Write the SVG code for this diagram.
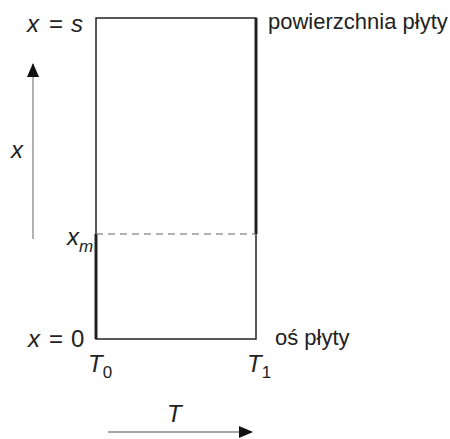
<svg xmlns="http://www.w3.org/2000/svg" width="450" height="439" viewBox="0 0 450 439">
<style>
text{font-family:"Liberation Sans",Arial,sans-serif;fill:#222;}
.it{font-style:italic;font-size:24px;}
.lab{font-size:22px;}
.sub{font-size:17px;}
.edge{stroke:#222;stroke-width:1.5;fill:none;}
.thick{stroke:#222;stroke-width:3;fill:none;}
.axis{stroke:#888;stroke-width:1.3;fill:none;}
</style>
<defs>
<marker id="ah" markerWidth="14" markerHeight="12" refX="13" refY="6" orient="auto" markerUnits="userSpaceOnUse">
<path d="M0,0 L14,6 L0,12 Z" fill="#111"/>
</marker>
</defs>
<g id="plate">
<rect x="96" y="18" width="160" height="321" class="edge"/>
<line x1="96" y1="234" x2="96" y2="339" class="thick"/>
<line x1="256" y1="18" x2="256" y2="234" class="thick"/>
<line x1="96" y1="234" x2="256" y2="234" stroke="#666" stroke-width="1" stroke-dasharray="7,5"/>
</g>
<g id="connectors">
<line x1="33" y1="239" x2="33" y2="64" class="axis" marker-end="url(#ah)"/>
<line x1="108" y1="432" x2="252" y2="432" class="axis" marker-end="url(#ah)"/>
</g>
<g id="labels">
<text y="32" class="it"><tspan x="27">x</tspan><tspan x="49" font-style="normal">=</tspan><tspan x="71">s</tspan></text>
<text x="268" y="29" class="lab">powierzchnia płyty</text>
<text x="11" y="158" class="it">x</text>
<text x="67" y="245" class="it">x<tspan class="sub" dy="7">m</tspan></text>
<text y="347" class="it"><tspan x="28">x</tspan><tspan x="49" font-style="normal">=</tspan><tspan x="71" font-style="normal">0</tspan></text>
<text x="88" y="372" class="it">T<tspan class="sub" font-style="normal" dy="6">0</tspan></text>
<text x="247" y="372" class="it">T<tspan class="sub" font-style="normal" dy="6">1</tspan></text>
<text x="275" y="345" class="lab">oś płyty</text>
<text x="167" y="422" class="it">T</text>
</g>
</svg>
